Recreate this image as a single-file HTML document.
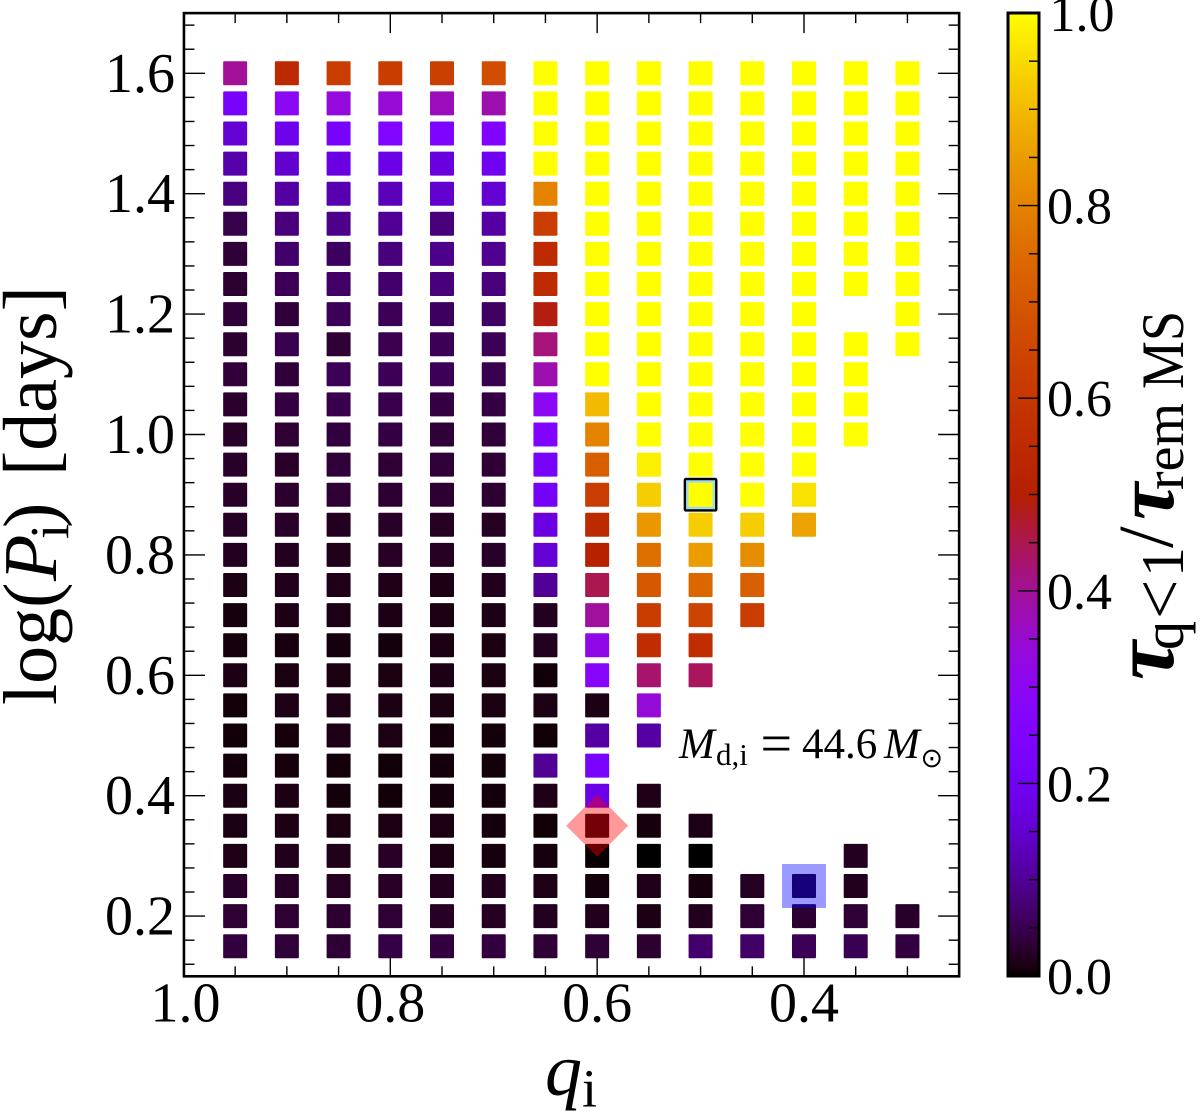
<!DOCTYPE html>
<html lang="en">
<head>
<meta charset="utf-8">
<title>Mass ratio versus period grid</title>
<style>
html,body{margin:0;padding:0;background:#fff;}
svg{display:block;}
text{font-family:"Liberation Serif","DejaVu Serif",serif;fill:#000;}
</style>
</head>
<body>
<svg id="chart" xmlns="http://www.w3.org/2000/svg" width="1200" height="1119" viewBox="0 0 1200 1119">
  <rect x="0" y="0" width="1200" height="1119" fill="#fff"/>
  <defs>
    <linearGradient id="cbar-gradient" x1="0" y1="1" x2="0" y2="0"></linearGradient>
  </defs>
  <g id="cells"></g>
  <g id="overlays"></g>
  <g id="axes"></g>
  <g id="colorbar"></g>

  <text transform="translate(56,705) rotate(-90)" font-size="76">log(<tspan x="124" font-style="italic">P</tspan><tspan x="166" y="12" font-size="55">i</tspan><tspan x="177" y="0">)</tspan><tspan x="229" y="0">[days]</tspan></text>
  <text x="545" y="1094.5" font-size="74"><tspan font-style="italic">q</tspan><tspan font-size="54" dy="12">i</tspan></text>

  <g>
    <text x="679" y="758" font-size="43" font-style="italic">M</text>
    <text x="716" y="765" font-size="31">d,i</text>
    <text x="760.5" y="762" font-size="56">=</text>
    <text x="802" y="758" font-size="43">44.6</text>
    <text x="884" y="758" font-size="43" font-style="italic">M</text>
    <text x="920.5" y="767" font-size="27" style="font-family:'DejaVu Sans',sans-serif">⊙</text>
  </g>

  <g>
    <text transform="translate(1173,680) rotate(-90)" font-size="88" font-weight="bold" font-style="italic">τ</text>
    <text transform="translate(1183,680) rotate(-90)" x="30" font-size="58">q</text>
    <text transform="translate(1183,680) rotate(-90)" x="61" font-size="70">&lt;</text>
    <text transform="translate(1183,680) rotate(-90)" x="103" font-size="60">1</text>
    <text transform="translate(1172,680) rotate(-90)" x="132" font-size="78">/</text>
    <text transform="translate(1173,680) rotate(-90)" x="160" font-size="84" font-weight="bold" font-style="italic">τ</text>
    <text transform="translate(1183,680) rotate(-90)" x="190" font-size="56">rem</text>
    <text transform="translate(1183,389) rotate(-90) scale(0.9,1)" font-size="60">MS</text>
  </g>

  <script>
    const qValues = [0.95, 0.90, 0.85, 0.80, 0.75, 0.70, 0.65, 0.60, 0.55, 0.50, 0.45, 0.40, 0.35, 0.30];
    const logPValues = [1.60, 1.55, 1.50, 1.45, 1.40, 1.35, 1.30, 1.25, 1.20, 1.15, 1.10, 1.05, 1.00, 0.95, 0.90, 0.85, 0.80, 0.75, 0.70, 0.65, 0.60, 0.55, 0.50, 0.45, 0.40, 0.35, 0.30, 0.25, 0.20, 0.15];

    const tauQ095 = [.40,.218,.155,.115,.083,.047,.035,.03,.035,.03,.037,.028,.025,.026,.025,.024,.02,.012,.008,.007,.012,.005,.005,.006,.01,.01,.014,.026,.032,.04];
    const tauQ090 = [.545,.30,.19,.15,.11,.08,.068,.055,.035,.05,.035,.042,.032,.025,.028,.025,.02,.016,.014,.009,.011,.014,.007,.007,.012,.012,.017,.024,.032,.036];
    const tauQ085 = [.62,.335,.22,.175,.12,.09,.06,.066,.055,.032,.055,.048,.04,.036,.033,.02,.017,.015,.012,.008,.01,.014,.014,.006,.006,.01,.016,.022,.03,.034];
    const tauQ080 = [.62,.345,.25,.18,.13,.10,.08,.07,.055,.05,.055,.048,.042,.033,.03,.025,.024,.013,.012,.006,.01,.012,.012,.005,.005,.01,.024,.024,.032,.044];
    const tauQ075 = [.63,.37,.24,.17,.15,.08,.09,.08,.06,.055,.055,.042,.036,.036,.03,.022,.022,.012,.01,.01,.012,.01,.006,.006,.006,.01,.01,.018,.024,.04];
    const tauQ070 = [.67,.38,.25,.195,.155,.11,.095,.08,.062,.055,.05,.042,.036,.033,.03,.022,.026,.018,.012,.011,.011,.011,.006,.006,.006,.006,.008,.018,.022,.04];
    const tauQ065 = [1,1,1,1,.80,.62,.55,.55,.49,.42,.38,.30,.25,.22,.21,.175,.155,.10,.02,.02,.005,.012,.004,.10,.014,.004,.008,.014,.02,.034];
    const tauQ060 = [1,1,1,1,1,1,1,1,1,1,1,.90,.80,.72,.62,.55,.51,.45,.395,.32,.28,.012,.11,.23,.18,.006,.001,.006,.018,.034];
    const tauQ055 = [1,1,1,1,1,1,1,1,1,1,1,1,1,.98,.93,.84,.76,.70,.62,.56,.43,.34,.11,null,.013,.007,0,.015,.012,.03];
    const tauQ050 = [1,1,1,1,1,1,1,1,1,1,1,1,1,1,1,.93,.85,.74,.64,.56,.44,null,null,null,null,.013,0,.008,.018,.07];
    const tauQ045 = [1,1,1,1,1,1,1,1,1,1,1,1,1,1,1,.93,.82,.72,.62,null,null,null,null,null,null,null,null,.022,.034,.065];
    const tauQ040 = [1,1,1,1,1,1,1,1,1,1,1,1,1,1,.96,.86,null,null,null,null,null,null,null,null,null,null,null,.02,.03,.055];
    const tauQ035 = [1,1,1,1,1,1,1,1,null,1,1,1,1,null,null,null,null,null,null,null,null,null,null,null,null,null,.02,.018,.034,.052];
    const tauQ030 = [1,1,1,1,1,1,1,1,1,1,null,null,null,null,null,null,null,null,null,null,null,null,null,null,null,null,null,null,.026,.04];

    const xTickLabels = ["1.0", "0.8", "0.6", "0.4"];
    const xTickValues = [1.0, 0.8, 0.6, 0.4];
    const xMinorValues = [0.95, 0.90, 0.85, 0.75, 0.70, 0.65, 0.55, 0.50, 0.45, 0.35, 0.30];
    const yTickLabels = ["1.6", "1.4", "1.2", "1.0", "0.8", "0.6", "0.4", "0.2"];
    const yTickValues = [1.6, 1.4, 1.2, 1.0, 0.8, 0.6, 0.4, 0.2];
    const yMinorValues = [1.68, 1.64, 1.56, 1.52, 1.48, 1.44, 1.36, 1.32, 1.28, 1.24, 1.16, 1.12, 1.08, 1.04, 0.96, 0.92, 0.88, 0.84, 0.76, 0.72, 0.68, 0.64, 0.56, 0.52, 0.48, 0.44, 0.36, 0.32, 0.28, 0.24, 0.16, 0.12];
    const cbarTickLabels = ["0.0", "0.2", "0.4", "0.6", "0.8", "1.0"];
    const cbarTickValues = [0, 0.2, 0.4, 0.6, 0.8, 1.0];
    const cbarMinorValues = [0.05, 0.10, 0.15, 0.25, 0.30, 0.35, 0.45, 0.50, 0.55, 0.65, 0.70, 0.75, 0.85, 0.90, 0.95];
    const highlightOutlined = [0.50, 0.90];
    const highlightDiamond = [0.60, 0.35];
    const highlightSquare = [0.40, 0.25];

    const tauColumns = [tauQ095, tauQ090, tauQ085, tauQ080, tauQ075, tauQ070, tauQ065, tauQ060, tauQ055, tauQ050, tauQ045, tauQ040, tauQ035, tauQ030];

    const NS = "http://www.w3.org/2000/svg";
    const xScale = function (q) { return 183.45 + (1 - q) * 1034.25; };
    const yScale = function (v) { return 73.3 + (1.6 - v) * 602; };
    const cScale = function (t) { return 976 - t * 963; };

    function gnuplotColor(t) {
      const x = Math.max(0, Math.min(1, t));
      const r = Math.sqrt(x);
      const g = x * x * x;
      const b = Math.max(0, Math.sin(2 * Math.PI * x));
      return "rgb(" + Math.round(r * 255) + "," + Math.round(g * 255) + "," + Math.round(b * 255) + ")";
    }
    function make(tag, attrs, parent) {
      const node = document.createElementNS(NS, tag);
      for (const k in attrs) { node.setAttribute(k, attrs[k]); }
      parent.appendChild(node);
      return node;
    }

    const cellsG = document.getElementById("cells");
    const overlaysG = document.getElementById("overlays");
    const axesG = document.getElementById("axes");
    const cbarG = document.getElementById("colorbar");

    /* highlighted outline sits behind the cells */
    const outlineBox = make("rect", {
      x: xScale(highlightOutlined[0]) - 15.7, y: yScale(highlightOutlined[1]) - 15.7,
      width: 31.4, height: 31.4, fill: "#a3dbe8", stroke: "#000", "stroke-width": 2.4, rx: 1
    }, cellsG);
    
    

    /* grid cells */
    qValues.forEach(function (q, ci) {
      logPValues.forEach(function (p, ri) {
        const val = tauColumns[ci][ri];
        if (val === null) { return; }
        const cell = make("rect", {
          x: xScale(q) - 12, y: yScale(p) - 12, width: 24, height: 24, rx: 1,
          fill: gnuplotColor(val)
        }, cellsG);
        
        
      });
    });

    /* overlays */
    const dx = xScale(highlightDiamond[0]);
    const dy = yScale(highlightDiamond[1]);
    const diamond = make("polygon", {
      points: (dx - 31) + "," + dy + " " + dx + "," + (dy - 31) + " " + (dx + 31) + "," + dy + " " + dx + "," + (dy + 31),
      fill: "rgba(255,0,0,0.4)"
    }, overlaysG);
    
    

    const blueSquare = make("rect", {
      x: xScale(highlightSquare[0]) - 22, y: yScale(highlightSquare[1]) - 22, width: 44, height: 44,
      fill: "rgba(0,0,255,0.4)"
    }, overlaysG);
    
    

    /* main axes */
    const frameLeft = xScale(1) + 0.5;
    const frameRight = xScale(0.25);
    const frameTop = yScale(1.7);
    const frameBottom = yScale(0.1);

    xMinorValues.forEach(function (q) {
      const tickA = make("line", { x1: xScale(q), x2: xScale(q), y1: frameBottom, y2: frameBottom - 10, stroke: "#000", "stroke-width": 1.4 }, axesG);
      
      
      const tickB = make("line", { x1: xScale(q), x2: xScale(q), y1: frameTop, y2: frameTop + 10, stroke: "#000", "stroke-width": 1.4 }, axesG);
      
      
    });
    xTickValues.forEach(function (q, i) {
      if (q < 1) {
        const tickA = make("line", { x1: xScale(q), x2: xScale(q), y1: frameBottom, y2: frameBottom - 20, stroke: "#000", "stroke-width": 1.4 }, axesG);
        
        
        const tickB = make("line", { x1: xScale(q), x2: xScale(q), y1: frameTop, y2: frameTop + 20, stroke: "#000", "stroke-width": 1.4 }, axesG);
        
        
      }
      const label = make("text", { x: xScale(q) + (q === 1 ? 2 : 0), y: 1021.7, "font-size": 56, "text-anchor": "middle" }, axesG);
      
      
      label.textContent = xTickLabels[i];
    });
    yMinorValues.forEach(function (v) {
      const tickA = make("line", { x1: frameLeft, x2: frameLeft + 10.5, y1: yScale(v), y2: yScale(v), stroke: "#000", "stroke-width": 1.4 }, axesG);
      
      
      const tickB = make("line", { x1: frameRight, x2: frameRight - 10.5, y1: yScale(v), y2: yScale(v), stroke: "#000", "stroke-width": 1.4 }, axesG);
      
      
    });
    yTickValues.forEach(function (v, i) {
      const tickA = make("line", { x1: frameLeft, x2: frameLeft + 21, y1: yScale(v), y2: yScale(v), stroke: "#000", "stroke-width": 1.4 }, axesG);
      
      
      const tickB = make("line", { x1: frameRight, x2: frameRight - 21, y1: yScale(v), y2: yScale(v), stroke: "#000", "stroke-width": 1.4 }, axesG);
      
      
      const label = make("text", { x: 175, y: yScale(v) + 18.5, "font-size": 56, "text-anchor": "end" }, axesG);
      
      
      label.textContent = yTickLabels[i];
    });
    const frame = make("rect", {
      x: frameLeft, y: frameTop, width: frameRight - frameLeft, height: frameBottom - frameTop,
      fill: "none", stroke: "#000", "stroke-width": 2.6
    }, axesG);
    
    

    /* colorbar */
    const grad = document.getElementById("cbar-gradient");
    for (let s = 0; s <= 128; s++) {
      make("stop", { offset: (s / 128), "stop-color": gnuplotColor(s / 128) }, grad);
    }
    const cbarFill = make("rect", { x: 1008, y: cScale(1), width: 31, height: cScale(0) - cScale(1), fill: "url(#cbar-gradient)" }, cbarG);
    
    
    cbarMinorValues.forEach(function (t) {
      const tick = make("line", { x1: 1039, x2: 1029, y1: cScale(t), y2: cScale(t), stroke: "#000", "stroke-width": 1.4 }, cbarG);
      
      
    });
    cbarTickValues.forEach(function (t, i) {
      if (t > 0 && t < 1) {
        const tick = make("line", { x1: 1039, x2: 1018, y1: cScale(t), y2: cScale(t), stroke: "#000", "stroke-width": 1.4 }, cbarG);
        
        
      }
      const label = make("text", { x: t === 1 ? 1049.5 : 1047, y: cScale(t) + 18, "font-size": 52 }, cbarG);
      
      
      label.textContent = cbarTickLabels[i];
    });
    const cbarFrame = make("rect", { x: 1008, y: cScale(1), width: 31, height: cScale(0) - cScale(1), fill: "none", stroke: "#000", "stroke-width": 3 }, cbarG);
    
    
  </script>
</svg>
</body>
</html>
